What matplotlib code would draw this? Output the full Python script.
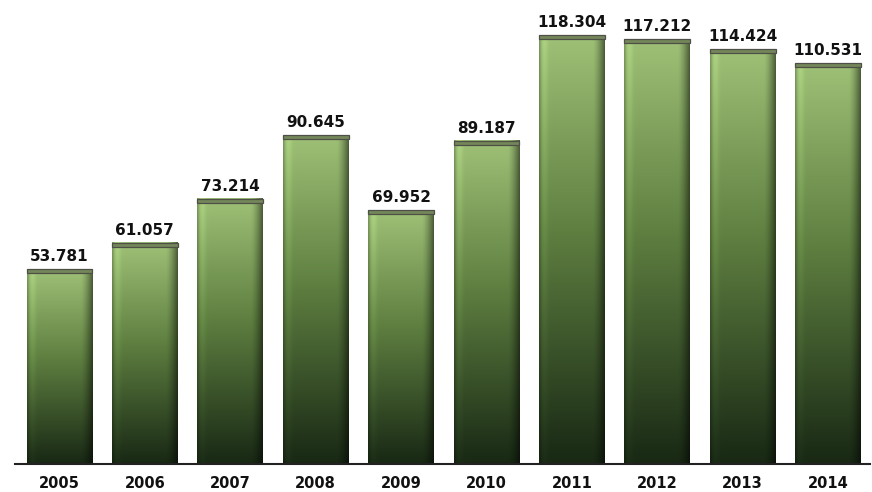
import matplotlib
matplotlib.use("Agg")
import matplotlib.pyplot as plt
import numpy as np
from matplotlib.patches import Rectangle

years = ["2005", "2006", "2007", "2008", "2009", "2010", "2011", "2012", "2013", "2014"]
values = [53.781, 61.057, 73.214, 90.645, 69.952, 89.187, 118.304, 117.212, 114.424, 110.531]
labels = ["53.781", "61.057", "73.214", "90.645", "69.952", "89.187", "118.304", "117.212", "114.424", "110.531"]

fig = plt.figure(figsize=(8.72, 4.92), dpi=100)
ax = fig.add_axes([15/872, 1-464/492, 855/872, 464/492])

top_col = np.array([158, 192, 118]) / 255.0
mid_col = np.array([95, 128, 65]) / 255.0
bot_col = np.array([24, 40, 20]) / 255.0
w = 0.77
ny, nx = 200, 60
t = np.linspace(0, 1, ny)[:, None, None]  # 0 at top, 1 at bottom
c1 = top_col + (mid_col - top_col) * np.clip(t / 0.45, 0, 1)
c2 = mid_col + (bot_col - mid_col) * np.clip((t - 0.45) / 0.55, 0, 1)
base = np.where(t < 0.45, c1, c2)
base = np.broadcast_to(base, (ny, nx, 3))
xs = np.linspace(0, 1, nx)[None, :]
shade = np.ones((1, nx))
shade = shade * (1 + 0.10 * np.exp(-((xs - 0.08) / 0.05) ** 2))
shade = shade * (1 - 0.5 * np.clip((xs - 0.82) / 0.18, 0, 1) ** 1.5)
shade = shade * (1 - 0.2 * np.clip((0.04 - xs) / 0.04, 0, 1))
img = np.clip(base * shade[..., None], 0, 1)

for i, v in enumerate(values):
    x0, x1 = i - w / 2, i + w / 2
    ax.imshow(img, extent=(x0, x1, 0, v), aspect="auto", origin="upper",
              interpolation="bilinear", zorder=2)
    cap = 1.1
    ax.add_patch(Rectangle((x0, v - cap), w, cap, facecolor="#74875a",
                           edgecolor="#4e5048", linewidth=0.9, zorder=3))
    ax.text(i, v + 1.4, labels[i], ha="center", va="bottom",
            fontsize=11, fontweight="bold", color="#111111", zorder=4)

ax.set_xlim(-0.52, 9.49)
ax.set_ylim(0, 128)
for s in ["top", "right", "left"]:
    ax.spines[s].set_visible(False)
ax.spines["bottom"].set_linewidth(1.5)
ax.spines["bottom"].set_color("#222222")
ax.spines["bottom"].set_zorder(5)
ax.set_yticks([])
ax.set_xticks(range(len(years)))
ax.set_xticklabels(years, fontsize=10.5, fontweight="bold", color="#111111")
ax.tick_params(axis="x", length=0, pad=9)

fig.savefig("out.png", dpi=100)
